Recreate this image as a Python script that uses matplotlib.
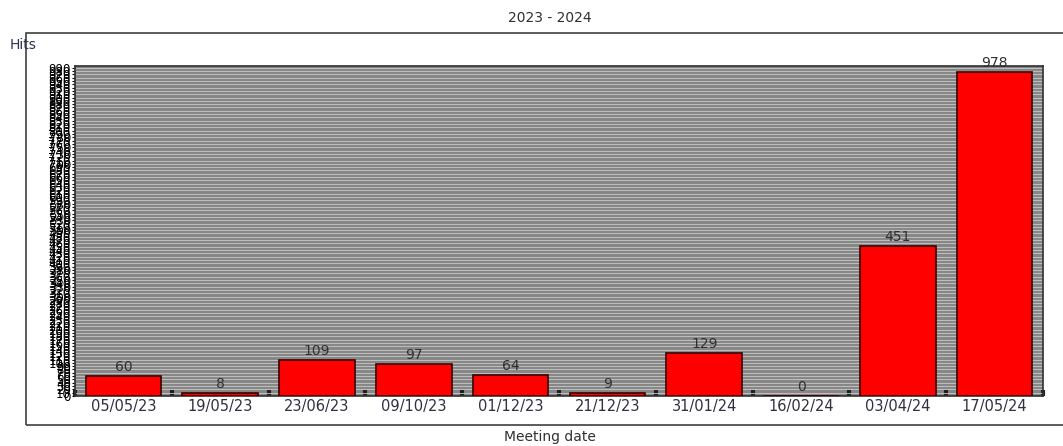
import numpy as np
import matplotlib
matplotlib.use('Agg')
import matplotlib.pyplot as plt
from matplotlib.patches import Rectangle

dates = ['05/05/23', '19/05/23', '23/06/23', '09/10/23', '01/12/23',
         '21/12/23', '31/01/24', '16/02/24', '03/04/24', '17/05/24']
hits = [60, 8, 109, 97, 64, 9, 129, 0, 451, 978]
ytick_step = 10
ymax = 995

plt.rcParams['font.family'] = ['DejaVu Sans']
fig = plt.figure(figsize=(10.63, 4.46), dpi=100)
fig.patch.set_facecolor('white')

# outer frame
fig.patches.append(Rectangle((26/1063, 1-425/446), 1.2, (425-33)/446,
                             transform=fig.transFigure, fill=False,
                             edgecolor='#404040', lw=1.2))

ax = fig.add_axes([75/1063, 1-396/446, (1043-75)/1063, (396-66)/446])
ax.set_facecolor('#878787')
x = np.arange(len(dates))
ax.set_xlim(-0.5, len(dates)-0.5)
ax.set_ylim(0, ymax)

# y labels every 10 -> they pile up into dark columns like the original
yt = np.arange(0, ymax, ytick_step)
ax.set_yticks(yt)
ax.set_yticklabels([str(v) for v in yt], fontsize=8.5, color='black')
ax.yaxis.grid(True, color='#c8c8c8', lw=0.6)
ax.set_axisbelow(True)

ax.bar(x, hits, width=0.78, color='red', edgecolor='#3a0000', lw=1.2, zorder=3)
for xi, h in zip(x, hits):
    ax.text(xi, h + 6, str(h), ha='center', va='bottom', fontsize=10,
            color='#303030', zorder=4)

ax.set_xticks(x)
ax.set_xticklabels(dates, fontsize=10.5, color='#303040')
ax.set_xticks(np.arange(-0.5, len(dates), 1), minor=True)
ax.tick_params(axis='x', which='major', length=0, pad=2)
ax.tick_params(axis='x', which='minor', length=4, width=3, color='#202020', direction='in')
ax.tick_params(axis='y', length=2, pad=1)
for s in ax.spines.values():
    s.set_color('#303030')
    s.set_linewidth(1.2)

fig.text(550/1063, 1-18/446, '2023 - 2024', ha='center', va='center', fontsize=10, color='#303030')
fig.text(10/1063, 1-45/446, 'Hits', ha='left', va='center', fontsize=10, color='#303050')
fig.text(550/1063, 1-437/446, 'Meeting date', ha='center', va='center', fontsize=10, color='#303030')

fig.savefig('out.png', dpi=100)
